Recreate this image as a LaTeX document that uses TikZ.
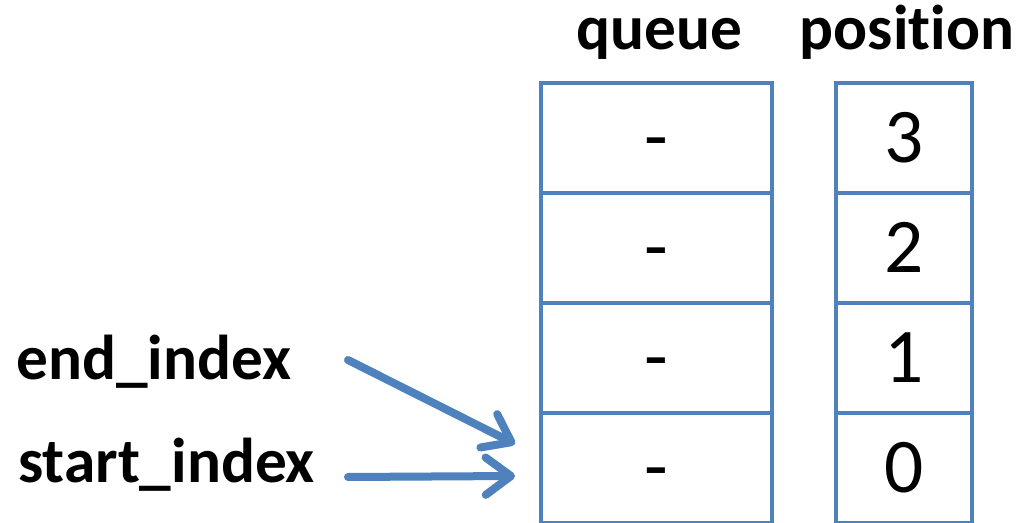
\documentclass[tikz,border=0pt]{standalone}
\usepackage{fontspec}
\setmainfont{Carlito}[Ligatures=NoCommon]
\usetikzlibrary{arrows.meta}
\definecolor{cellblue}{HTML}{4F81BD}
\tikzset{
  cell/.style={draw=cellblue, line width=3pt, inner sep=0pt,
    minimum height=82.5pt, text height=36.5pt, text depth=0pt,
    font=\fontsize{58}{58}\selectfont},
  qcell/.style={cell, minimum width=173.25pt},
  pcell/.style={cell, minimum width=102pt},
  heading/.style={inner sep=0pt, anchor=base, font=\fontsize{47.5}{47.5}\selectfont\bfseries},
  label/.style={inner sep=0pt, anchor=base west, font=\fontsize{47.5}{47.5}\selectfont\bfseries},
  pointer/.style={draw=cellblue, line width=6pt, line cap=round,
    -{Straight Barb[length=19pt, width=28pt, round]}}
}
\begin{document}
\begin{tikzpicture}[x=0.75pt, y=-0.75pt]
\useasboundingbox (0,0) rectangle (1031,523);
\fill[white] (0,0) rectangle (1031,523);

% column headings
\node[heading] (hq) at (659,50) {queue};
\node[heading] (hp) at (907,50) {position};

% queue slots and their positions, top row first
\node[qcell] (q3) at (656.5,138.5) {-};
\node[qcell] (q2) at (656.5,248) {-};
\node[qcell] (q1) at (656.5,358) {-};
\node[qcell] (q0) at (656.5,468) {-};
\node[pcell] (p3) at (904,138.5) {3};
\node[pcell] (p2) at (904,248) {2};
\node[pcell] (p1) at (904,358) {1};
\node[pcell] (p0) at (904,468) {0};

% index labels
\node[label] (endi) at (16,380) {end\_index};
\node[label] (starti) at (18,482) {start\_index};

% pointers into the queue
\coordinate (endtail) at (348,360);
\coordinate (endtip) at (515,444);
\coordinate (starttail) at (348,477);
\coordinate (starttip) at (515,476);
\draw[pointer] (endtail) -- (endtip);
\draw[pointer] (starttail) -- (starttip);
\end{tikzpicture}
\end{document}
